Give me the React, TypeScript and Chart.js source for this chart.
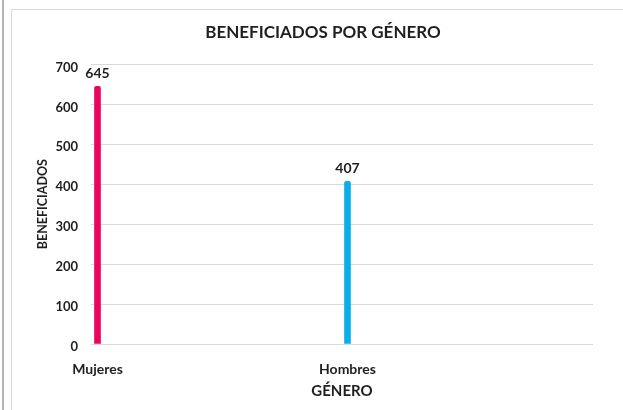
import React, { useEffect, useRef } from "react";
import { Chart, registerables } from "chart.js";

Chart.register(...registerables);

const categories = ["Mujeres", "Hombres"];
const beneficiados = [645, 407];
const barColors = ["#E8065E", "#0AAEE8"];
const yTicks = [0, 100, 200, 300, 400, 500, 600, 700];

const FONT = "Lato, 'Open Sans', sans-serif";
const TEXT = "#1f1f1f";

const valueLabels = {
  id: "valueLabels",
  afterDatasetsDraw(chart: any) {
    const ctx = chart.ctx;
    const meta = chart.getDatasetMeta(0);
    ctx.save();
    ctx.font = `bold 14px ${FONT}`;
    ctx.fillStyle = TEXT;
    ctx.textAlign = "center";
    ctx.textBaseline = "middle";
    meta.data.forEach((el: any, i: number) => {
      ctx.fillText(String(beneficiados[i]), el.x, el.y - 12.5);
    });
    ctx.restore();
  },
};

export default function App() {
  const ref = useRef<HTMLCanvasElement>(null);
  useEffect(() => {
    if (!ref.current) return;
    const chart = new Chart(ref.current, {
      type: "bar",
      data: {
        datasets: [
          {
            data: beneficiados.map((v, i) => ({ x: i, y: v })),
            backgroundColor: barColors,
            barThickness: 6,
            borderRadius: { topLeft: 2, topRight: 2 },
          },
        ],
      },
      options: {
        animation: false,
        responsive: false,
        layout: { padding: { left: 53, right: 30, top: 0, bottom: 0 } },
        plugins: {
          legend: { display: false },
          tooltip: { enabled: false },
          title: {
            display: true,
            text: "BENEFICIADOS POR GÉNERO",
            color: TEXT,
            font: { family: FONT, size: 17, weight: "bold" },
            padding: { top: 22, bottom: 22 },
          },
        },
        scales: {
          x: {
            type: "linear",
            offset: false,
            min: -0.026,
            max: 1.982,
            grid: { display: false, offset: false },
            border: { display: false },
            afterBuildTicks: (axis: any) => {
              axis.ticks = categories.map((_, i) => ({ value: i }));
            },
            afterFit: (scale: any) => {
              scale.height = 66;
            },
            ticks: {
              padding: 9,
              color: TEXT,
              font: { family: FONT, size: 14, weight: "bold" },
              maxRotation: 0,
              callback: (v: any) => categories[v] ?? "",
            },
            title: {
              display: true,
              text: "GÉNERO",
              color: TEXT,
              font: { family: FONT, size: 15, weight: "bold" },
              padding: { top: 0, bottom: 10 },
            },
          },
          y: {
            min: 0,
            max: 700,
            afterBuildTicks: (axis: any) => {
              axis.ticks = yTicks.map((v) => ({ value: v }));
            },
            afterFit: (scale: any) => {
              scale.width = 38;
            },
            grid: { color: "#d9d9d9", drawTicks: false, lineWidth: 1 },
            border: { display: false },
            ticks: {
              padding: 13,
              labelOffset: 3,
              color: TEXT,
              font: { family: FONT, size: 13, weight: "bold" },
            },
            title: {
              display: true,
              text: "BENEFICIADOS",
              color: TEXT,
              font: { family: FONT, size: 12.5, weight: "bold" },
              padding: { top: -17.5, bottom: 0 },
            },
          },
        },
      },
      plugins: [valueLabels],
    });
    return () => chart.destroy();
  }, []);

  return (
    <div
      style={{
        position: "absolute",
        left: 0,
        top: 0,
        width: 623,
        height: 410,
        background: "#fff",
        overflow: "hidden",
      }}
    >
      <div
        style={{
          position: "absolute",
          left: 2,
          top: 0,
          width: 2,
          height: 410,
          background: "#b4b4b4",
        }}
      />
      <div
        style={{
          position: "absolute",
          left: 11,
          top: 9,
          right: 0,
          bottom: 0,
          borderLeft: "1px solid #dadada",
          borderTop: "1px solid #dadada",
        }}
      />
      <canvas
        ref={ref}
        width={623}
        height={410}
        style={{ position: "absolute", left: 0, top: 0, width: 623, height: 410 }}
      />
    </div>
  );
}
